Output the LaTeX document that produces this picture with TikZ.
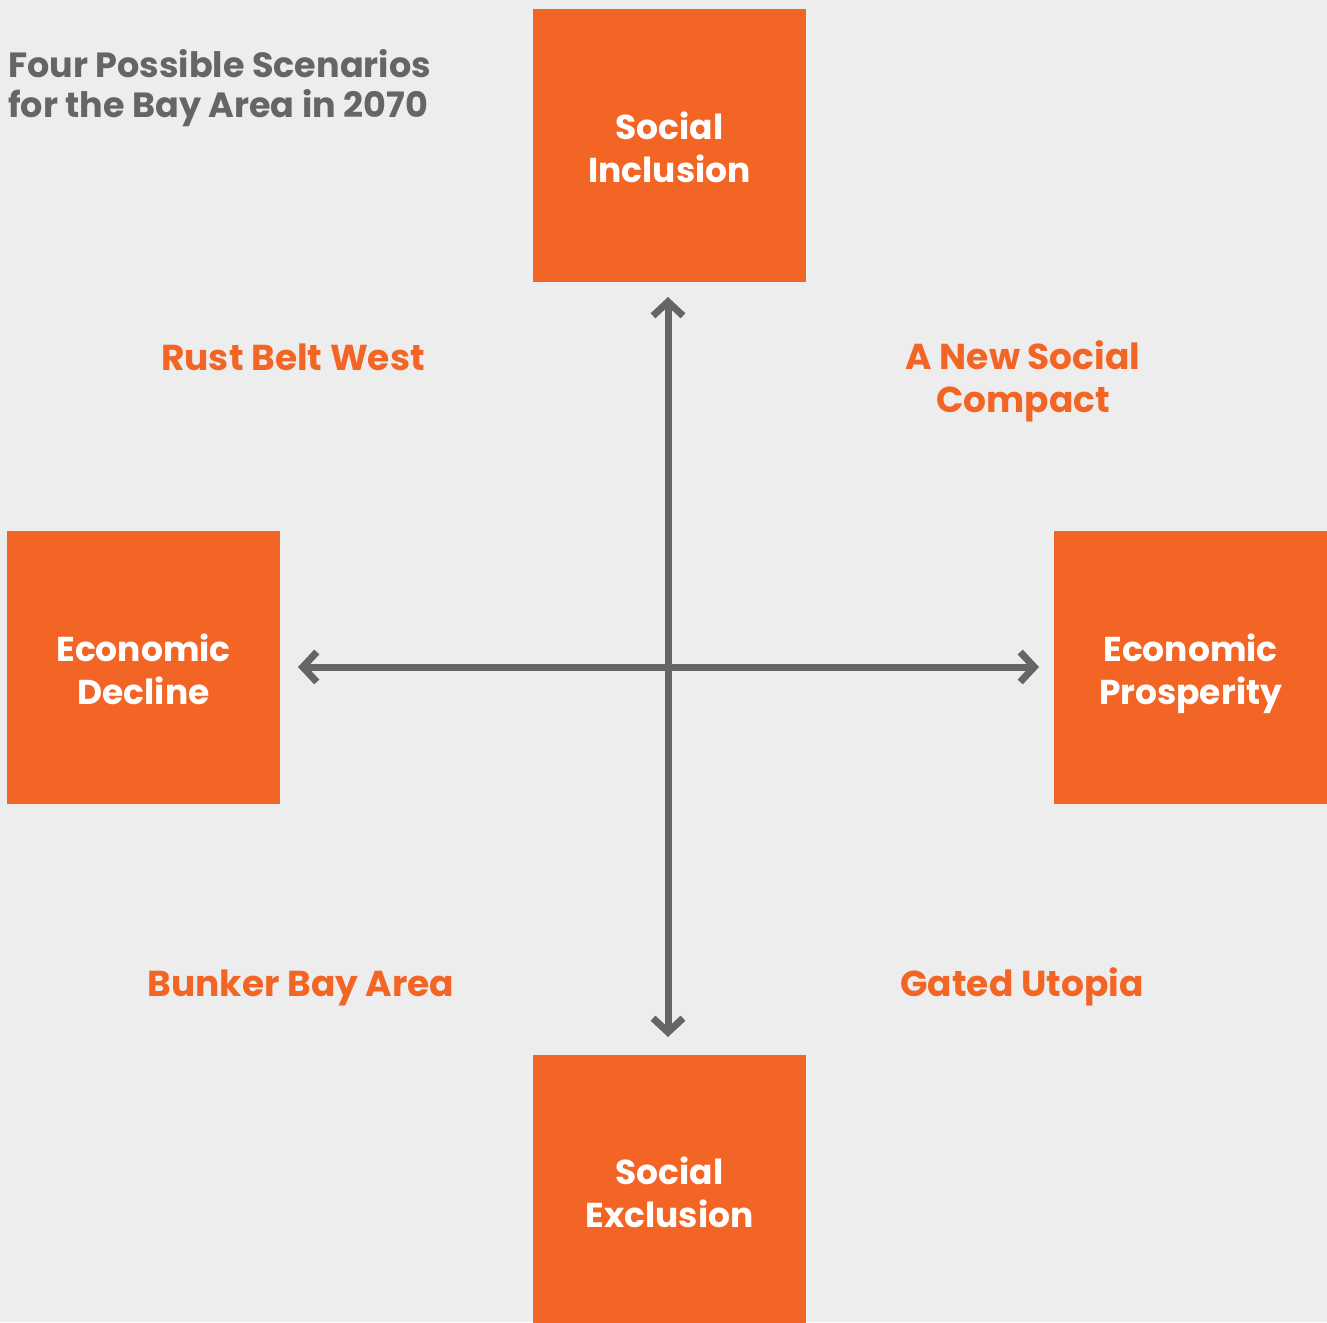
\documentclass[tikz,border=0pt]{standalone}
\usepackage{fontspec}
\setmainfont{Poppins}
\usetikzlibrary{arrows.meta}
\definecolor{bg}{HTML}{EDEDED}
\definecolor{org}{HTML}{F26524}
\definecolor{gry}{HTML}{646567}
\tikzset{
  box/.style={fill=org, minimum width=273pt, minimum height=273pt, inner sep=0pt, draw=none},
  boxtxt/.style={text=white, align=center, inner sep=0pt, font=\fontsize{34.5}{43}\selectfont\bfseries},
  scen/.style={text=org, align=center, inner sep=0pt, font=\fontsize{36}{43}\selectfont\bfseries},
  axis/.style={draw=gry, line width=7pt, {Straight Barb[length=14pt,width=30pt]}-{Straight Barb[length=14pt,width=30pt]}}
}
\begin{document}
\begin{tikzpicture}[x=1pt,y=-1pt]
\fill[bg] (0,0) rectangle (1327,1322);
\useasboundingbox (0,0) rectangle (1327,1322);
\node[box] (si) at (669.5,145.5) {};
\node[box] (ed) at (143.5,667.5) {};
\node[box] (ep) at (1190.5,667.5) {};
\node[box] (se) at (669.5,1191.5) {};
\node[boxtxt] (sit) at (669.5,152) {Social\\Inclusion\vphantom{p}};
\node[boxtxt] (edt) at (143.5,674) {Economic\\Decline\vphantom{p}};
\node[boxtxt] (ept) at (1190.5,674) {Economic\\Prosperity};
\node[boxtxt] (set) at (669.5,1197) {Social\\Exclusion\vphantom{p}};
\node[anchor=north west, inner sep=0pt, align=left, text=gry, font=\fontsize{35}{40}\selectfont\bfseries] (title) at (8,49) {Four Possible Scenarios\\for the Bay Area in 2070};
\node[scen] (rbw) at (293,357) {Rust Belt West};
\node[scen] (nsc) at (1023,381) {A New Social\\Compact};
\node[scen] (bba) at (301,988) {Bunker Bay Area};
\node[scen] (gu) at (1022,987) {Gated Utopia};
\coordinate (nt) at (668,297);
\coordinate (st) at (668,1037);
\coordinate (wt) at (298,667);
\coordinate (et) at (1039,667);
\draw[axis] (st) -- (nt);
\draw[axis] (wt) -- (et);
\end{tikzpicture}
\end{document}
